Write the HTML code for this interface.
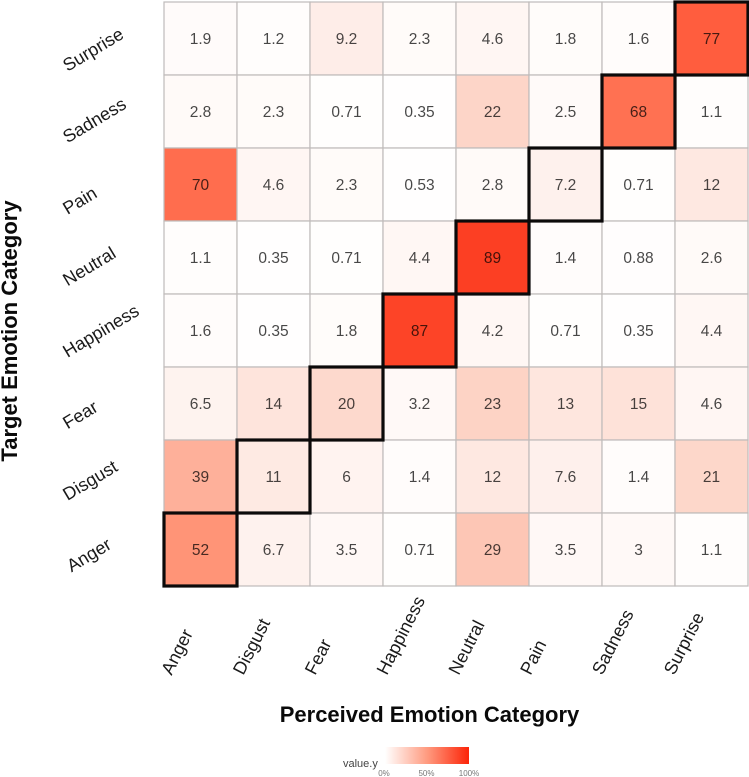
<!DOCTYPE html>
<html>
<head>
<meta charset="utf-8">
<style>
html,body{margin:0;padding:0;background:#fff;width:749px;height:777px;overflow:hidden}
svg{display:block;font-family:"Liberation Sans",sans-serif}
</style>
</head>
<body>
<svg id="chart" width="749" height="777" viewBox="0 0 749 777" xmlns="http://www.w3.org/2000/svg">
  <defs>
    <linearGradient id="legend-gradient" x1="0" x2="1" y1="0" y2="0">
      <stop offset="0" stop-color="#ffffff"/>
      <stop offset="0.5" stop-color="#ff9b80"/>
      <stop offset="1" stop-color="#fc2408"/>
    </linearGradient>
  </defs>
  <g id="cells"></g>
  <g id="diagonal"></g>
  <g id="values"></g>
  <g id="xticks"></g>
  <g id="yticks"></g>
  <text x="429.5" y="722" text-anchor="middle" font-size="22" font-weight="bold" fill="#0a0a0a">Perceived Emotion Category</text>
  <text transform="translate(17,331) rotate(-90)" text-anchor="middle" font-size="22" font-weight="bold" fill="#0a0a0a">Target Emotion Category</text>
  <g>
    <text x="343" y="767" font-size="11" fill="#444">value.y</text>
    <rect x="385" y="747" width="84" height="17" fill="url(#legend-gradient)"/>
    <text x="384" y="776" text-anchor="middle" font-size="8" fill="#777">0%</text>
    <text x="426.5" y="776" text-anchor="middle" font-size="8" fill="#777">50%</text>
    <text x="469" y="776" text-anchor="middle" font-size="8" fill="#777">100%</text>
  </g>
</svg>
<script>
const perceivedCategories = ["Anger","Disgust","Fear","Happiness","Neutral","Pain","Sadness","Surprise"];
const targetCategories = ["Surprise","Sadness","Pain","Neutral","Happiness","Fear","Disgust","Anger"];
const rowSurprise = ["1.9","1.2","9.2","2.3","4.6","1.8","1.6","77"];
const rowSadness = ["2.8","2.3","0.71","0.35","22","2.5","68","1.1"];
const rowPain = ["70","4.6","2.3","0.53","2.8","7.2","0.71","12"];
const rowNeutral = ["1.1","0.35","0.71","4.4","89","1.4","0.88","2.6"];
const rowHappiness = ["1.6","0.35","1.8","87","4.2","0.71","0.35","4.4"];
const rowFear = ["6.5","14","20","3.2","23","13","15","4.6"];
const rowDisgust = ["39","11","6","1.4","12","7.6","1.4","21"];
const rowAnger = ["52","6.7","3.5","0.71","29","3.5","3","1.1"];
const valueRows = [rowSurprise,rowSadness,rowPain,rowNeutral,rowHappiness,rowFear,rowDisgust,rowAnger];
const diagonalTargets = ["Surprise","Sadness","Neutral","Happiness","Fear","Disgust","Anger","Pain"];
const diagonalPerceived = ["Surprise","Sadness","Neutral","Happiness","Fear","Disgust","Anger","Pain"];

const NS = "http://www.w3.org/2000/svg";
const plotLeft = 164, plotTop = 2, cellSize = 73;
function xScale(name){ return plotLeft + perceivedCategories.indexOf(name) * cellSize; }
function yScale(name){ return plotTop + targetCategories.indexOf(name) * cellSize; }
function xLabelStart(name){ return 171.5 + perceivedCategories.indexOf(name) * 71.8; }
function yLabelStart(name){ return 72 + targetCategories.indexOf(name) * 71.5; }
function colorScale(v){
  const stops = [[0,[255,255,255]],[25,[253,207,192]],[50,[255,152,124]],[75,[255,98,66]],[100,[250,35,10]]];
  let i = 0;
  while (i < stops.length - 2 && v > stops[i+1][0]) i++;
  const a = stops[i], b = stops[i+1], t = Math.min(1, Math.max(0, (v - a[0]) / (b[0] - a[0])));
  const c = a[1].map((x, k) => Math.round(x + (b[1][k] - x) * t));
  return "rgb(" + c.join(",") + ")";
}
function make(tag, attrs, parent){
  const el = document.createElementNS(NS, tag);
  for (const k in attrs) el.setAttribute(k, attrs[k]);
  parent.appendChild(el);
  return el;
}
const cellsG = document.getElementById("cells");
const valuesG = document.getElementById("values");
const diagG = document.getElementById("diagonal");
const xG = document.getElementById("xticks");
const yG = document.getElementById("yticks");

targetCategories.forEach((target, r) => {
  perceivedCategories.forEach((perceived, c) => {
    const label = valueRows[r][c];
    const v = parseFloat(label);
    const rect = make("rect", {x: xScale(perceived), y: yScale(target), width: cellSize, height: cellSize, fill: colorScale(v), stroke: "#bfbbba", "stroke-width": 1.2}, cellsG);
    
    
    const txt = make("text", {x: xScale(perceived) + cellSize / 2, y: yScale(target) + cellSize / 2 + 5.5, "text-anchor": "middle", "font-size": 15.5, fill: "#000", "fill-opacity": 0.72}, valuesG);
    txt.textContent = label;
    
    
  });
});
diagonalTargets.forEach((target, i) => {
  const rect = make("rect", {x: xScale(diagonalPerceived[i]), y: yScale(target), width: cellSize, height: cellSize, fill: "none", stroke: "#0c0a0a", "stroke-width": 3.2}, diagG);
  
  
});
perceivedCategories.forEach((name) => {
  const t = make("text", {transform: "translate(" + xLabelStart(name) + ",676) rotate(-63)", "text-anchor": "start", "font-size": 18, fill: "#1a1a1a"}, xG);
  t.textContent = name;
  
  
});
targetCategories.forEach((name) => {
  const nudge = name === "Anger" ? 4 : 0;
  const t = make("text", {transform: "translate(" + (67.5 + nudge) + "," + yLabelStart(name) + ") rotate(-31)", "text-anchor": "start", "font-size": 18, fill: "#1a1a1a"}, yG);
  t.textContent = name;
  
  
});
</script>
</body>
</html>
